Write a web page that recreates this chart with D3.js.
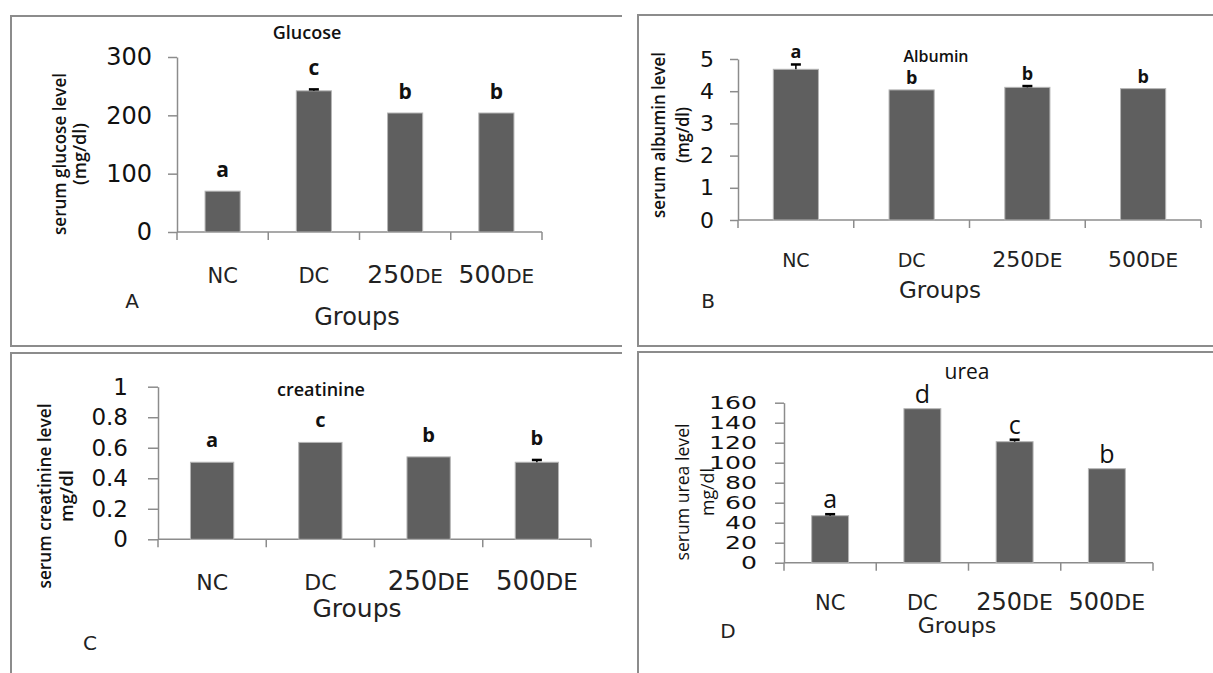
<!DOCTYPE html>
<html>
<head>
<meta charset="utf-8">
<script src="https://cdn.jsdelivr.net/npm/d3@7"></script>
<style>
  body { margin: 0; background: #fff; }
  svg { display: block; }
</style>
</head>
<body>
<svg id="chart" width="1213" height="673"></svg>
<script>
// groups on the x axis
const groups = ["NC", "DC", "250DE", "500DE"];

// A - glucose
const glucose = [70, 242, 204, 204];
const glucoseErr = [0, 2.5, 0, 0];
const glucoseLetters = ["a", "c", "b", "b"];
const glucoseTicks = [0, 100, 200, 300];

// B - albumin
const albumin = [4.68, 4.04, 4.12, 4.08];
const albuminErr = [0.15, 0, 0.04, 0];
const albuminLetters = ["a", "b", "b", "b"];
const albuminTicks = [0, 1, 2, 3, 4, 5];

// C - creatinine
const creatinine = [0.505, 0.635, 0.54, 0.505];
const creatinineErr = [0, 0, 0, 0.015];
const creatinineLetters = ["a", "c", "b", "b"];
const creatinineTicks = [0, 0.2, 0.4, 0.6, 0.8, 1];

// D - urea
const urea = [47, 154, 121, 94];
const ureaErr = [1.5, 0, 2, 0];
const ureaLetters = ["a", "d", "c", "b"];
const ureaTicks = [0, 20, 40, 60, 80, 100, 120, 140, 160];

const svg = d3.select("#chart");
const sans = "'DejaVu Sans', Verdana, sans-serif";
const label = "'Open Sans', 'Noto Sans', sans-serif";

// frames of the 4 boxes
const frames = [
    "M622,16 H11 V346 H622",
    "M1213,15 H638 V346 H1213",
    "M622,353 H11 V680",
    "M1213,352 H638 V680"
];
svg.selectAll("path.frame")
    .data(frames)
    .enter()
    .append("path")
    .attr("class", "frame")
    .attr("d", d => d)
    .attr("fill", "none")
    .attr("stroke", "#8c8c8c")
    .attr("stroke-width", 2);

const panels = [
    {
        values: glucose, err: glucoseErr, letters: glucoseLetters, ticks: glucoseTicks,
        x0: 177, x1: 542, yTop: 57, yBot: 232, barFrac: 0.385, tick: 9, pad: 16, tickFont: 24,
        letterGap: 14, letterFont: 21, letterWeight: "bold",
        title: "Glucose", titleX: 307, titleY: 39, titleSize: 18, titleWeight: 600,
        ylab: ["serum glucose level", "(mg/dl)"], ylabLen: [162, 62], ylabX: [66, 86], ylabY: 154, ylabSize: 18, ylabWeight: 600,
        catY: 283, catFont: 21, digitFont: 25, deFont: 20,
        groupsX: 357, groupsY: 325, groupsFont: 24,
        tag: "A", tagX: 132, tagY: 308, tagFont: 20
    },
    {
        values: albumin, err: albuminErr, letters: albuminLetters, ticks: albuminTicks,
        x0: 738, x1: 1201, yTop: 59, yBot: 220, barFrac: 0.39, tick: 8, pad: 16, tickFont: 22,
        letterGap: 6, letterFont: 18, letterWeight: "bold",
        title: "Albumin", titleX: 936, titleY: 62, titleSize: 16, titleWeight: 600,
        ylab: ["serum albumin level", "(mg/dl)"], ylabLen: [166, 56], ylabX: [665, 689], ylabY: 135, ylabSize: 18, ylabWeight: 600,
        catY: 267, catFont: 19, digitFont: 22, deFont: 20,
        groupsX: 940, groupsY: 298, groupsFont: 23,
        tag: "B", tagX: 708, tagY: 308, tagFont: 20
    },
    {
        values: creatinine, err: creatinineErr, letters: creatinineLetters, ticks: creatinineTicks,
        x0: 158, x1: 591, yTop: 386.7, yBot: 539.3, barFrac: 0.4, tick: 10, pad: 20, tickFont: 23,
        letterGap: 15, letterFont: 20, letterWeight: "bold",
        title: "creatinine", titleX: 321, titleY: 396, titleSize: 18, titleWeight: 600,
        ylab: ["serum creatinine level", "mg/dl"], ylabLen: [185, 52], ylabX: [51, 73], ylabY: 496, ylabSize: 18, ylabWeight: 600,
        catY: 590, catFont: 22, digitFont: 26, deFont: 23,
        groupsX: 357, groupsY: 617, groupsFont: 25,
        tag: "C", tagX: 90, tagY: 650, tagFont: 20
    },
    {
        values: urea, err: ureaErr, letters: ureaLetters, ticks: ureaTicks,
        x0: 784, x1: 1153, yTop: 402.7, yBot: 562.7, barFrac: 0.4, tick: 9, pad: 18, tickFont: 18, tickDigit: 16,
        letterGap: 6, letterFont: 25, letterWeight: "normal",
        title: "urea", titleX: 967, titleY: 379, titleSize: 21, titleWeight: 400,
        ylab: ["serum urea level", "mg/dl"], ylabLen: [137, 48], ylabX: [689, 714], ylabY: 492, ylabSize: 18, ylabWeight: 400,
        catY: 610, catFont: 21, digitFont: 24, deFont: 22,
        groupsX: 957, groupsY: 633, groupsFont: 22,
        tag: "D", tagX: 728, tagY: 638, tagFont: 20
    }
];

function drawPanel(p) {
    const g = svg.append("g");

    const x = d3.scaleBand()
        .domain(groups)
        .range([p.x0, p.x1])
        .padding(0);

    const y = d3.scaleLinear()
        .domain([0, d3.max(p.ticks)])
        .range([p.yBot, p.yTop]);

    // y axis
    const yAxis = g.append("g")
        .attr("transform", "translate(" + p.x0 + ",0)")
        .call(d3.axisLeft(y)
            .tickValues(p.ticks)
            .tickFormat(d => String(d))
            .tickSize(p.tick)
            .tickSizeOuter(0)
            .tickPadding(p.pad));
    yAxis.select(".domain").attr("stroke", "#8c8c8c").attr("stroke-width", 1.5);
    yAxis.selectAll(".tick line").attr("stroke", "#8c8c8c").attr("stroke-width", 1.5);
    const tl = yAxis.selectAll(".tick text")
        .attr("font-family", sans)
        .attr("font-size", p.tickFont)
        .attr("fill", "#111");
    if (p.tickDigit) {
        // crowded axis: wide, short digits
        tl.attr("textLength", d => String(d).length * p.tickDigit)
            .attr("lengthAdjust", "spacingAndGlyphs");
    }

    // x axis (excel style, ticks between groups)
    g.append("line")
        .attr("x1", p.x0).attr("x2", p.x1)
        .attr("y1", y(0)).attr("y2", y(0))
        .attr("stroke", "#8c8c8c").attr("stroke-width", 1.5);
    const edges = groups.map(d => x(d)).concat([x(groups[groups.length - 1]) + x.bandwidth()]);
    g.selectAll("line.xtick")
        .data(edges)
        .enter()
        .append("line")
        .attr("class", "xtick")
        .attr("x1", d => d).attr("x2", d => d)
        .attr("y1", y(0)).attr("y2", y(0) + 8)
        .attr("stroke", "#8c8c8c").attr("stroke-width", 1.5);

    // bars
    const bw = x.bandwidth() * p.barFrac;
    const cx = d => x(d) + x.bandwidth() / 2;
    g.selectAll("rect")
        .data(groups)
        .enter()
        .append("rect")
        .attr("x", d => cx(d) - bw / 2)
        .attr("y", (d, i) => y(p.values[i]))
        .attr("width", bw)
        .attr("height", (d, i) => y(0) - y(p.values[i]))
        .attr("fill", "#5f5f5f")
        .attr("stroke", "#b5b5b5")
        .attr("stroke-width", 1);

    // error bars
    groups.forEach((d, i) => {
        if (!p.err[i]) return;
        const top = y(p.values[i] + p.err[i]);
        g.append("line")
            .attr("x1", cx(d)).attr("x2", cx(d))
            .attr("y1", y(p.values[i])).attr("y2", top)
            .attr("stroke", "#000").attr("stroke-width", 1.5);
        g.append("line")
            .attr("x1", cx(d) - 5).attr("x2", cx(d) + 5)
            .attr("y1", top).attr("y2", top)
            .attr("stroke", "#000").attr("stroke-width", 2.5);
    });

    // significance letters
    g.selectAll("text.letter")
        .data(groups)
        .enter()
        .append("text")
        .attr("class", "letter")
        .attr("x", d => cx(d))
        .attr("y", (d, i) => y(p.values[i] + p.err[i]) - p.letterGap)
        .attr("text-anchor", "middle")
        .attr("font-family", label)
        .attr("font-size", p.letterFont)
        .attr("font-weight", p.letterWeight)
        .attr("fill", "#111")
        .text((d, i) => p.letters[i]);

    // group labels, "DE" set smaller than the dose
    const cat = g.selectAll("text.cat")
        .data(groups)
        .enter()
        .append("text")
        .attr("class", "cat")
        .attr("x", d => cx(d))
        .attr("y", p.catY)
        .attr("text-anchor", "middle")
        .attr("font-family", sans)
        .attr("font-size", p.catFont)
        .attr("fill", "#222");
    cat.each(function (d) {
        const m = d.match(/^(\d+)(DE)$/);
        const t = d3.select(this);
        if (m) {
            t.append("tspan").attr("font-size", p.digitFont).text(m[1]);
            t.append("tspan").attr("font-size", p.deFont).text(m[2]);
        } else {
            t.text(d);
        }
    });

    // title
    g.append("text")
        .attr("x", p.titleX).attr("y", p.titleY)
        .attr("text-anchor", "middle")
        .attr("font-family", label)
        .attr("font-size", p.titleSize)
        .attr("font-weight", p.titleWeight)
        .attr("fill", "#111")
        .text(p.title);

    // y label (two lines)
    p.ylab.forEach((s, i) => {
        g.append("text")
            .attr("transform", "translate(" + p.ylabX[i] + "," + p.ylabY + ") rotate(-90)")
            .attr("text-anchor", "middle")
            .attr("font-family", label)
            .attr("font-size", p.ylabSize)
            .attr("font-weight", p.ylabWeight)
            .attr("textLength", p.ylabLen[i])
            .attr("lengthAdjust", "spacingAndGlyphs")
            .attr("fill", "#111")
            .text(s);
    });

    // x title
    g.append("text")
        .attr("x", p.groupsX).attr("y", p.groupsY)
        .attr("text-anchor", "middle")
        .attr("font-family", sans)
        .attr("font-size", p.groupsFont)
        .attr("fill", "#222")
        .text("Groups");

    // panel letter
    g.append("text")
        .attr("x", p.tagX).attr("y", p.tagY)
        .attr("text-anchor", "middle")
        .attr("font-family", sans)
        .attr("font-size", p.tagFont)
        .attr("fill", "#222")
        .text(p.tag);
}

panels.forEach(drawPanel);
</script>
</body>
</html>
